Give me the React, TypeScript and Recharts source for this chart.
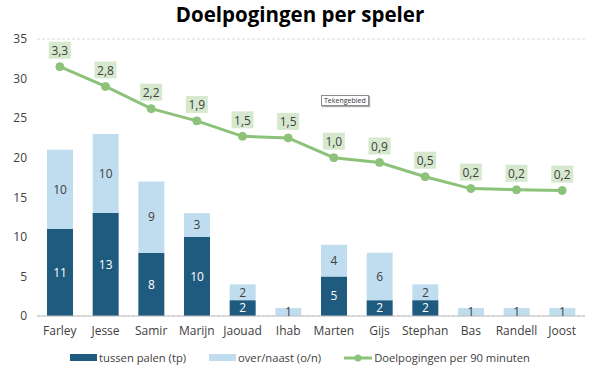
import React from 'react';
import { ComposedChart, Bar, Line, XAxis, YAxis, CartesianGrid, LabelList } from 'recharts';

const players = ['Farley', 'Jesse', 'Samir', 'Marijn', 'Jaouad', 'Ihab', 'Marten', 'Gijs', 'Stephan', 'Bas', 'Randell', 'Joost'];
const tussenPalen = [11, 13, 8, 10, 2, 0, 5, 2, 2, 0, 0, 0];
const overNaast = [10, 10, 9, 3, 2, 1, 4, 6, 2, 1, 1, 1];
const per90 = [3.3, 2.8, 2.24, 1.93, 1.54, 1.5, 1.0, 0.88, 0.52, 0.22, 0.19, 0.17];
const yTicks = [0, 5, 10, 15, 20, 25, 30, 35];

const data = players.map((name, i) => ({
  name,
  tp: tussenPalen[i],
  on: overNaast[i],
  p90: per90[i],
}));

const DARK = '#1f5b7f';
const LIGHT = '#c0ddf0';
const GREEN = '#8cc27a';
const BOX = '#d6e9cf';
const TEXT = '#404040';
const FONT = '"Open Sans", "Noto Sans", sans-serif';

const fmtBar = (v: any) => (v ? String(v) : '');

const LineLabel = (props: any) => {
  const { x, y, value } = props;
  const txt = Number(value).toFixed(1).replace('.', ',');
  return (
    <g>
      <rect x={x - 11} y={y - 25} width={22} height={17} fill={BOX} />
      <text x={x} y={y - 16} textAnchor="middle" dominantBaseline="central" fontSize={12} fill={TEXT} fontFamily={FONT}>
        {txt}
      </text>
    </g>
  );
};

export default function App() {
  return (
    <div style={{ position: 'absolute', left: 0, top: 0, width: 600, height: 377, background: '#fff', fontFamily: FONT }}>
      <div style={{ position: 'absolute', top: 0, left: 0, width: 600, textAlign: 'center', fontSize: 20.5, fontWeight: 700, color: '#000' }}>
        Doelpogingen per speler
      </div>
      <ComposedChart
        width={600}
        height={377}
        data={data}
        margin={{ top: 39, right: 15, bottom: 33, left: 0 }}
        barCategoryGap={0}
      >
        <CartesianGrid vertical={false} stroke="#d9d9d9" strokeDasharray="3 2" />
        <XAxis
          dataKey="name"
          xAxisId="x"
          tickLine={false}
          axisLine={{ stroke: '#bfbfbf' }}
          tick={{ fontSize: 12, fill: TEXT, fontFamily: FONT }}
          tickMargin={4}
          height={28}
          interval={0}
        />
        <YAxis
          yAxisId="left"
          domain={[0, 35]}
          ticks={yTicks}
          width={37}
          tickLine={false}
          axisLine={false}
          tick={{ fontSize: 12, fill: TEXT, fontFamily: FONT }}
          tickMargin={4}
          interval={0}
        />
        <YAxis yAxisId="right" orientation="right" domain={[-3, 4]} hide />
        <Bar dataKey="tp" stackId="a" xAxisId="x" yAxisId="left" fill={DARK} barSize={26} isAnimationActive={false}>
          <LabelList dataKey="tp" position="center" formatter={fmtBar} fill="#ffffff" fontSize={12} fontFamily={FONT} />
        </Bar>
        <Bar dataKey="on" stackId="a" xAxisId="x" yAxisId="left" fill={LIGHT} barSize={26} isAnimationActive={false}>
          <LabelList dataKey="on" position="center" formatter={fmtBar} fill={TEXT} fontSize={12} fontFamily={FONT} />
        </Bar>
        <Line
          dataKey="p90"
          xAxisId="x"
          yAxisId="right"
          stroke={GREEN}
          strokeWidth={3}
          dot={{ r: 4, fill: GREEN, stroke: GREEN, strokeWidth: 1 }}
          isAnimationActive={false}
        >
          <LabelList dataKey="p90" content={LineLabel} />
        </Line>
      </ComposedChart>
      <div style={{ position: 'absolute', left: 321, top: 95, border: '1px solid #8c8c8c', background: '#fff', fontSize: 7, padding: '0 2px', color: '#333', boxShadow: '1px 1px 1px #aaa' }}>
        Tekengebied
      </div>
      <div style={{ position: 'absolute', top: 350, left: 0, width: 600, display: 'flex', justifyContent: 'center', alignItems: 'center', fontSize: 11.2, color: TEXT, gap: 23 }}>
        <div style={{ display: 'flex', alignItems: 'center' }}>
          <span style={{ display: 'inline-block', width: 27, height: 7, background: DARK, marginRight: 2 }} />
          tussen palen (tp)
        </div>
        <div style={{ display: 'flex', alignItems: 'center' }}>
          <span style={{ display: 'inline-block', width: 27, height: 7, background: LIGHT, marginRight: 2 }} />
          over/naast (o/n)
        </div>
        <div style={{ display: 'flex', alignItems: 'center' }}>
          <svg width={28} height={10} style={{ marginRight: 2 }}>
            <line x1={0} y1={5} x2={28} y2={5} stroke={GREEN} strokeWidth={3} />
            <circle cx={14} cy={5} r={3.5} fill={GREEN} />
          </svg>
          Doelpogingen per 90 minuten
        </div>
      </div>
    </div>
  );
}
